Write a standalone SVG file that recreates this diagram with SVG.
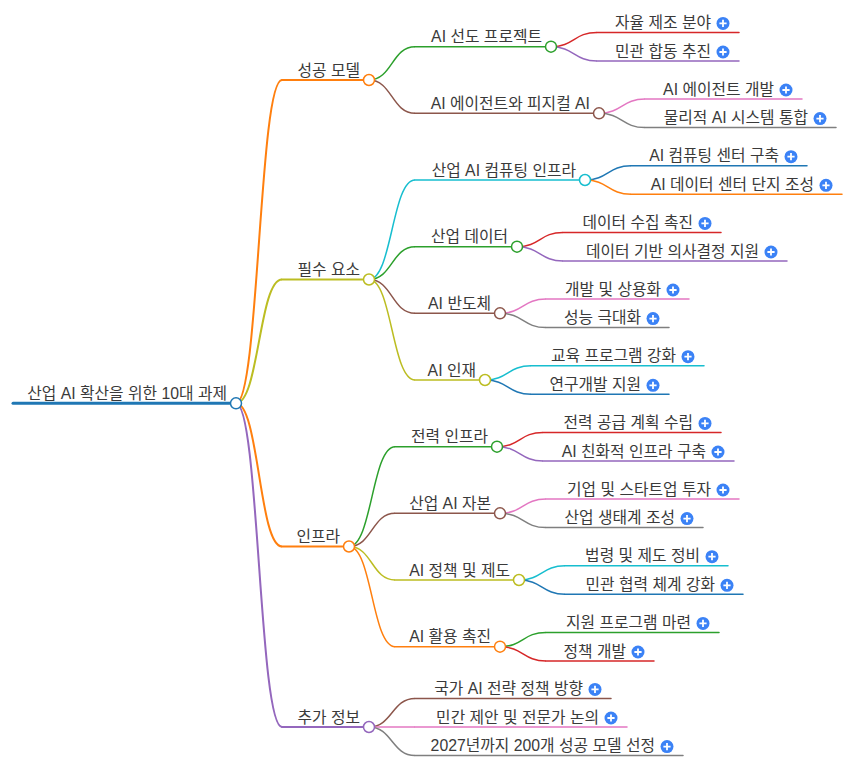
<svg xmlns="http://www.w3.org/2000/svg" xmlns:xlink="http://www.w3.org/1999/xlink" width="867" height="772" viewBox="0 0 867 772">
<style>
text{font-family:"Liberation Sans","Noto Sans CJK KR",sans-serif;font-size:15.8px;fill:#3a3a3a;text-anchor:end}
.ln{fill:none;stroke-linecap:round}
.lk{fill:none}
.dot{fill:#fff;stroke-width:1.5}
.w1{stroke-width:2}
.w2{stroke-width:1.5}
.c0{stroke:#1f77b4}.c1{stroke:#ff7f0e}.c2{stroke:#2ca02c}.c3{stroke:#d62728}.c4{stroke:#9467bd}
.c5{stroke:#8c564b}.c6{stroke:#e377c2}.c7{stroke:#7f7f7f}.c8{stroke:#bcbd22}.c9{stroke:#17becf}
</style>
<defs>
<g id="plus"><circle r="6.5" fill="#3b82f6"/><path d="M-3.6 0H3.6M0 -3.6V3.6" stroke="#fff" stroke-width="1.8"/></g>
</defs>
<rect width="867" height="772" fill="#fff"/>
<g id="connectors">
<path class="lk w1 c1" d="M236 403.3C259 403.3 259 80 282 80"/>
<path class="lk w1 c8" d="M236 403.3C259 403.3 259 279.5 282 279.5"/>
<path class="lk w1 c1" d="M236 403.3C259 403.3 259 546.5 282 546.5"/>
<path class="lk w1 c4" d="M236 403.3C259 403.3 259 727 282 727"/>
<path class="lk w2 c2" d="M369 80C392 80 392 46.7 415 46.7"/>
<path class="lk w2 c5" d="M369 80C392 80 392 113.3 415 113.3"/>
<path class="lk w2 c9" d="M369 279.5C392 279.5 392 180 415 180"/>
<path class="lk w2 c2" d="M369 279.5C392 279.5 392 246.7 415 246.7"/>
<path class="lk w2 c5" d="M369 279.5C392 279.5 392 313.3 415 313.3"/>
<path class="lk w2 c8" d="M369 279.5C392 279.5 392 380 415 380"/>
<path class="lk w2 c2" d="M349 546.5C372 546.5 372 446.7 395 446.7"/>
<path class="lk w2 c5" d="M349 546.5C372 546.5 372 513.3 395 513.3"/>
<path class="lk w2 c8" d="M349 546.5C372 546.5 372 580 395 580"/>
<path class="lk w2 c1" d="M349 546.5C372 546.5 372 646.7 395 646.7"/>
<path class="lk w2 c5" d="M369 727C392 727 392 698.4 415 698.4"/>
<path class="lk w2 c6" d="M369 727C392 727 392 727 415 727"/>
<path class="lk w2 c7" d="M369 727C392 727 392 755.6 415 755.6"/>
<path class="lk w2 c3" d="M551 46.7C574 46.7 574 32.4 597 32.4"/>
<path class="lk w2 c4" d="M551 46.7C574 46.7 574 61 597 61"/>
<path class="lk w2 c6" d="M599 113.3C622 113.3 622 99 645 99"/>
<path class="lk w2 c7" d="M599 113.3C622 113.3 622 127.6 645 127.6"/>
<path class="lk w2 c0" d="M585 180C608 180 608 165.7 631 165.7"/>
<path class="lk w2 c1" d="M585 180C608 180 608 194.3 631 194.3"/>
<path class="lk w2 c3" d="M517 246.7C540 246.7 540 232.4 563 232.4"/>
<path class="lk w2 c4" d="M517 246.7C540 246.7 540 261 563 261"/>
<path class="lk w2 c6" d="M500 313.3C523 313.3 523 299 546 299"/>
<path class="lk w2 c7" d="M500 313.3C523 313.3 523 327.6 546 327.6"/>
<path class="lk w2 c9" d="M485 380C508 380 508 365.7 531 365.7"/>
<path class="lk w2 c0" d="M485 380C508 380 508 394.3 531 394.3"/>
<path class="lk w2 c3" d="M497 446.7C520 446.7 520 432.4 543 432.4"/>
<path class="lk w2 c4" d="M497 446.7C520 446.7 520 461 543 461"/>
<path class="lk w2 c6" d="M500 513.3C523 513.3 523 499 546 499"/>
<path class="lk w2 c7" d="M500 513.3C523 513.3 523 527.6 546 527.6"/>
<path class="lk w2 c9" d="M519 580C542 580 542 565.7 565 565.7"/>
<path class="lk w2 c0" d="M519 580C542 580 542 594.3 565 594.3"/>
<path class="lk w2 c2" d="M500 646.7C523 646.7 523 632.4 546 632.4"/>
<path class="lk w2 c3" d="M500 646.7C523 646.7 523 661 546 661"/>
</g>
<g id="root"><path class="ln c0" stroke-width="3" d="M13 403.3H236"/><circle class="dot c0" cx="236" cy="403.3" r="5.5"/><text x="227" y="398.8">산업 AI 확산을 위한 10대 과제</text></g>
<g id="n-success"><path class="ln w1 c1" d="M282 80H369"/><circle class="dot c1" cx="369" cy="80" r="5.5"/><text x="360" y="75.5">성공 모델</text></g>
<g id="n-lead"><path class="ln w2 c2" d="M415 46.7H551"/><circle class="dot c2" cx="551" cy="46.7" r="5.5"/><text x="542" y="42.2">AI 선도 프로젝트</text></g>
<g id="n-lead-1"><path class="ln w2 c3" d="M597 32.4H739"/><text x="711" y="27.9">자율 제조 분야</text><use href="#plus" x="723" y="23.4"/></g>
<g id="n-lead-2"><path class="ln w2 c4" d="M597 61H739"/><text x="711" y="56.5">민관 합동 추진</text><use href="#plus" x="723" y="52"/></g>
<g id="n-agent"><path class="ln w2 c5" d="M415 113.3H599"/><circle class="dot c5" cx="599" cy="113.3" r="5.5"/><text x="590" y="108.8">AI 에이전트와 피지컬 AI</text></g>
<g id="n-agent-1"><path class="ln w2 c6" d="M645 99H802"/><text x="774" y="94.5">AI 에이전트 개발</text><use href="#plus" x="786" y="90"/></g>
<g id="n-agent-2"><path class="ln w2 c7" d="M645 127.6H836"/><text x="808" y="123.1">물리적 AI 시스템 통합</text><use href="#plus" x="820" y="118.6"/></g>
<g id="n-essential"><path class="ln w1 c8" d="M282 279.5H369"/><circle class="dot c8" cx="369" cy="279.5" r="5.5"/><text x="360" y="275">필수 요소</text></g>
<g id="n-compute"><path class="ln w2 c9" d="M415 180H585"/><circle class="dot c9" cx="585" cy="180" r="5.5"/><text x="576" y="175.5">산업 AI 컴퓨팅 인프라</text></g>
<g id="n-compute-1"><path class="ln w2 c0" d="M631 165.7H807"/><text x="779" y="161.2">AI 컴퓨팅 센터 구축</text><use href="#plus" x="791" y="156.7"/></g>
<g id="n-compute-2"><path class="ln w2 c1" d="M631 194.3H842"/><text x="814" y="189.8">AI 데이터 센터 단지 조성</text><use href="#plus" x="826" y="185.3"/></g>
<g id="n-data"><path class="ln w2 c2" d="M415 246.7H517"/><circle class="dot c2" cx="517" cy="246.7" r="5.5"/><text x="508" y="242.2">산업 데이터</text></g>
<g id="n-data-1"><path class="ln w2 c3" d="M563 232.4H721"/><text x="693" y="227.9">데이터 수집 촉진</text><use href="#plus" x="705" y="223.4"/></g>
<g id="n-data-2"><path class="ln w2 c4" d="M563 261H787"/><text x="759" y="256.5">데이터 기반 의사결정 지원</text><use href="#plus" x="771" y="252"/></g>
<g id="n-semi"><path class="ln w2 c5" d="M415 313.3H500"/><circle class="dot c5" cx="500" cy="313.3" r="5.5"/><text x="491" y="308.8">AI 반도체</text></g>
<g id="n-semi-1"><path class="ln w2 c6" d="M546 299H689"/><text x="661" y="294.5">개발 및 상용화</text><use href="#plus" x="673" y="290"/></g>
<g id="n-semi-2"><path class="ln w2 c7" d="M546 327.6H669"/><text x="641" y="323.1">성능 극대화</text><use href="#plus" x="653" y="318.6"/></g>
<g id="n-talent"><path class="ln w2 c8" d="M415 380H485"/><circle class="dot c8" cx="485" cy="380" r="5.5"/><text x="476" y="375.5">AI 인재</text></g>
<g id="n-talent-1"><path class="ln w2 c9" d="M531 365.7H704"/><text x="676" y="361.2">교육 프로그램 강화</text><use href="#plus" x="688" y="356.7"/></g>
<g id="n-talent-2"><path class="ln w2 c0" d="M531 394.3H669"/><text x="641" y="389.8">연구개발 지원</text><use href="#plus" x="653" y="385.3"/></g>
<g id="n-infra"><path class="ln w1 c1" d="M282 546.5H349"/><circle class="dot c1" cx="349" cy="546.5" r="5.5"/><text x="340" y="542">인프라</text></g>
<g id="n-power"><path class="ln w2 c2" d="M395 446.7H497"/><circle class="dot c2" cx="497" cy="446.7" r="5.5"/><text x="488" y="442.2">전력 인프라</text></g>
<g id="n-power-1"><path class="ln w2 c3" d="M543 432.4H721"/><text x="693" y="427.9">전력 공급 계획 수립</text><use href="#plus" x="705" y="423.4"/></g>
<g id="n-power-2"><path class="ln w2 c4" d="M543 461H734"/><text x="706" y="456.5">AI 친화적 인프라 구축</text><use href="#plus" x="718" y="452"/></g>
<g id="n-capital"><path class="ln w2 c5" d="M395 513.3H500"/><circle class="dot c5" cx="500" cy="513.3" r="5.5"/><text x="491" y="508.8">산업 AI 자본</text></g>
<g id="n-capital-1"><path class="ln w2 c6" d="M546 499H739"/><text x="711" y="494.5">기업 및 스타트업 투자</text><use href="#plus" x="723" y="490"/></g>
<g id="n-capital-2"><path class="ln w2 c7" d="M546 527.6H703"/><text x="675" y="523.1">산업 생태계 조성</text><use href="#plus" x="687" y="518.6"/></g>
<g id="n-policy"><path class="ln w2 c8" d="M395 580H519"/><circle class="dot c8" cx="519" cy="580" r="5.5"/><text x="510" y="575.5">AI 정책 및 제도</text></g>
<g id="n-policy-1"><path class="ln w2 c9" d="M565 565.7H728"/><text x="700" y="561.2">법령 및 제도 정비</text><use href="#plus" x="712" y="556.7"/></g>
<g id="n-policy-2"><path class="ln w2 c0" d="M565 594.3H743"/><text x="715" y="589.8">민관 협력 체계 강화</text><use href="#plus" x="727" y="585.3"/></g>
<g id="n-use"><path class="ln w2 c1" d="M395 646.7H500"/><circle class="dot c1" cx="500" cy="646.7" r="5.5"/><text x="491" y="642.2">AI 활용 촉진</text></g>
<g id="n-use-1"><path class="ln w2 c2" d="M546 632.4H719"/><text x="691" y="627.9">지원 프로그램 마련</text><use href="#plus" x="703" y="623.4"/></g>
<g id="n-use-2"><path class="ln w2 c3" d="M546 661H654"/><text x="626" y="656.5">정책 개발</text><use href="#plus" x="638" y="652"/></g>
<g id="n-extra"><path class="ln w1 c4" d="M282 727H369"/><circle class="dot c4" cx="369" cy="727" r="5.5"/><text x="360" y="722.5">추가 정보</text></g>
<g id="n-extra-1"><path class="ln w2 c5" d="M415 698.4H611"/><text x="583" y="693.9">국가 AI 전략 정책 방향</text><use href="#plus" x="595" y="689.4"/></g>
<g id="n-extra-2"><path class="ln w2 c6" d="M415 727H627"/><text x="599" y="722.5">민간 제안 및 전문가 논의</text><use href="#plus" x="611" y="718"/></g>
<g id="n-extra-3"><path class="ln w2 c7" d="M415 755.6H683"/><text x="655" y="751.1">2027년까지 200개 성공 모델 선정</text><use href="#plus" x="667" y="746.6"/></g>
</svg>
